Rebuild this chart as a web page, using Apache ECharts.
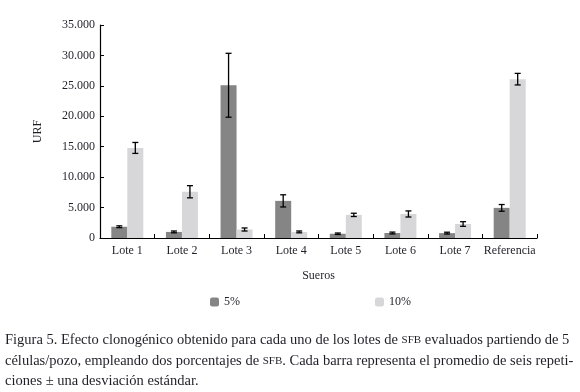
<!DOCTYPE html>
<html>
<head>
<meta charset="utf-8">
<script src="https://cdn.jsdelivr.net/npm/echarts@6/dist/echarts.min.js"></script>
<style>
  html, body { margin: 0; padding: 0; background: #fff; }
  #chart { width: 580px; height: 392px; }
</style>
</head>
<body>
<div id="chart"></div>
<script>
// datos
const categories = ['Lote 1', 'Lote 2', 'Lote 3', 'Lote 4', 'Lote 5', 'Lote 6', 'Lote 7', 'Referencia']
const valores5 = [1850, 1000, 25100, 6100, 700, 820, 800, 4950]
const valores10 = [14800, 7600, 1400, 1000, 3800, 3950, 2300, 26100]
const desv5 = [150, 150, 5250, 1000, 120, 150, 150, 550]
const desv10 = [900, 1000, 250, 150, 270, 500, 380, 950]
const yTicks = [0, 5000, 10000, 15000, 20000, 25000, 30000, 35000]

const serif = '"Liberation Serif", "DejaVu Serif", serif'
const textColor = '#1f1f28'

// barras de error: [indice, bajo, alto]
function errorData(vals, errs) {
  return vals.map((v, i) => [i, v - errs[i], v + errs[i]])
}

function errorSeries(name, vals, errs, offset) {
  return {
    type: 'custom',
    name: name + '_err',
    silent: true,
    z: 10,
    data: errorData(vals, errs),
    renderItem: (params, api) => {
      const lo = api.coord([api.value(0), api.value(1)])
      const hi = api.coord([api.value(0), api.value(2)])
      const x = lo[0] + offset
      const cap = 3
      const style = { stroke: '#000', lineWidth: 1.3 }
      return {
        type: 'group',
        children: [
          { type: 'line', shape: { x1: x, y1: lo[1], x2: x, y2: hi[1] }, style },
          { type: 'line', shape: { x1: x - cap, y1: lo[1], x2: x + cap, y2: lo[1] }, style },
          { type: 'line', shape: { x1: x - cap, y1: hi[1], x2: x + cap, y2: hi[1] }, style }
        ]
      }
    }
  }
}

const fmt = (v) => v === 0 ? '0' : String(v).replace(/(\d)(?=(\d{3})+$)/g, '$1.')

const captionRich = {
  sc: { fontFamily: serif, fontSize: 11, fill: textColor }
}
const captionLines = [
  'Figura 5. Efecto clonogénico obtenido para cada uno de los lotes de {sc|SFB} evaluados partiendo de 5',
  'células/pozo, empleando dos porcentajes de {sc|SFB}. Cada barra representa el promedio de seis repeti-',
  'ciones ± una desviación estándar.'
]

const chart = echarts.init(document.getElementById('chart'), null, { renderer: 'canvas' })
const option = {
  backgroundColor: '#fff',
  animation: false,
  textStyle: { fontFamily: serif, color: textColor },
  grid: { left: 100, right: 43, top: 25, bottom: 154, containLabel: false },
  legend: [
    {
      data: ['5%'], left: 205, top: 291, itemWidth: 9, itemHeight: 9, itemGap: 6,
      textStyle: { fontFamily: serif, fontSize: 12, color: textColor }
    },
    {
      data: ['10%'], left: 370, top: 291, itemWidth: 9, itemHeight: 9, itemGap: 6,
      textStyle: { fontFamily: serif, fontSize: 12, color: textColor }
    }
  ],
  xAxis: {
    type: 'category',
    data: categories,
    name: 'Sueros',
    nameLocation: 'middle',
    nameGap: 32,
    nameTextStyle: { fontFamily: serif, fontSize: 12, color: textColor },
    axisLine: { lineStyle: { color: '#000', width: 1.2 } },
    axisTick: { show: true, inside: true, length: 4, interval: 0, lineStyle: { color: '#000' } },
    axisLabel: { fontFamily: serif, fontSize: 12, color: textColor, margin: 7, interval: 0 }
  },
  yAxis: {
    type: 'value',
    min: 0,
    max: 35000,
    interval: 5000,
    name: 'URF',
    nameLocation: 'middle',
    nameGap: 56,
    nameRotate: 90,
    nameTextStyle: { fontFamily: serif, fontSize: 12, color: textColor },
    axisLine: { show: true, lineStyle: { color: '#000', width: 1.2 } },
    axisTick: { show: true, inside: true, length: 4, lineStyle: { color: '#000' } },
    splitLine: { show: false },
    axisLabel: {
      fontFamily: serif, fontSize: 12, color: textColor, margin: 5,
      formatter: (v) => yTicks.includes(v) ? fmt(v) : ''
    }
  },
  series: [
    {
      name: '5%', type: 'bar', data: valores5, barWidth: 16, barGap: '0%',
      itemStyle: { color: '#858585' }
    },
    {
      name: '10%', type: 'bar', data: valores10, barWidth: 16, barGap: '0%',
      itemStyle: { color: '#d7d7d9' }
    },
    errorSeries('5%', valores5, desv5, -8),
    errorSeries('10%', valores10, desv10, 8)
  ],
  graphic: captionLines.map((t, i) => ({
    type: 'text',
    left: 5,
    top: 333 + i * 20.5,
    style: {
      text: t,
      font: '14.5px ' + serif,
      fill: textColor,
      rich: captionRich
    }
  }))
}
chart.setOption(option)
</script>
</body>
</html>
